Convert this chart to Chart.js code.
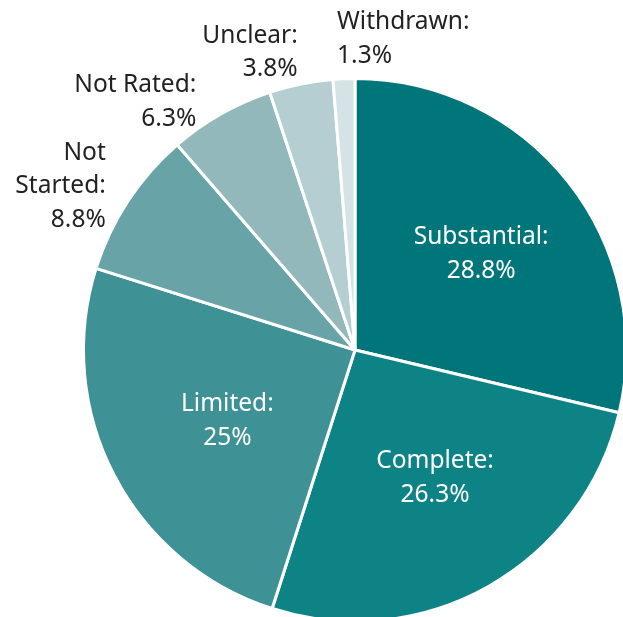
<!DOCTYPE html>
<html>
<head>
<meta charset="utf-8">
<script src="https://cdn.jsdelivr.net/npm/chart.js@4/dist/chart.umd.min.js"></script>
<style>
  html, body { margin: 0; padding: 0; background: #fff; overflow: hidden; }
  #wrap { position: absolute; left: 0; top: 0; width: 710px; height: 700px; }
</style>
</head>
<body>
<div id="wrap"><canvas id="pie" width="710" height="700"></canvas></div>
<script>
// categories and values (percent of total), clockwise from 12 o'clock
const categories = ["Substantial", "Complete", "Limited", "Not Started", "Not Rated", "Unclear", "Withdrawn"];
const shares = [28.8, 26.3, 25, 8.8, 6.3, 3.8, 1.3];
const sliceColors = ["#00767a", "#0d8385", "#3e9194", "#68a3a7", "#92b8bb", "#b4ced2", "#d5e3e6"];

// where each label sits: radius as a fraction of the pie radius,
// angle nudge in degrees, text alignment, colour
const labelPlace = [
    { r: 0.598, da: -0.7, align: "center", color: "#ffffff" },
    { r: 0.538, da: -3.8, align: "center", color: "#ffffff" },
    { r: 0.528, da: 0.3, align: "center", color: "#ffffff" },
    { r: 1.111, da: 1.0, align: "right", color: "#222222", wrap: true },
    { r: 1.103, da: -2.4, align: "right", color: "#222222" },
    { r: 1.138, da: 0.8, align: "right", color: "#222222" },
    { r: 1.170, da: -0.9, align: "left", color: "#222222" }
];

const sliceLabels = {
    id: "sliceLabels",
    afterDatasetsDraw(chart) {
        const ctx = chart.ctx;
        const meta = chart.getDatasetMeta(0);
        ctx.save();
        ctx.font = "24.5px 'Noto Sans'";
        ctx.textBaseline = "middle";
        meta.data.forEach((arc, i) => {
            const p = labelPlace[i];
            const mid = (arc.startAngle + arc.endAngle) / 2 + p.da * Math.PI / 180;
            const x = arc.x + Math.cos(mid) * arc.outerRadius * p.r;
            const y = arc.y + Math.sin(mid) * arc.outerRadius * p.r + 6;
            let lines = p.wrap ? categories[i].split(" ") : [categories[i]];
            lines[lines.length - 1] += ":";
            lines.push(shares[i] + "%");
            const lh = 33.5;
            const top = y - (lines.length - 1) * lh / 2;
            ctx.fillStyle = p.color;
            ctx.textAlign = p.align;
            lines.forEach((t, k) => ctx.fillText(t, x, top + k * lh));
        });
        ctx.restore();
    }
};

new Chart(document.getElementById("pie"), {
    type: "pie",
    data: {
        labels: categories,
        datasets: [{
            data: shares,
            backgroundColor: sliceColors,
            borderColor: "#ffffff",
            borderWidth: 3
        }]
    },
    options: {
        responsive: false,
        animation: false,
        devicePixelRatio: 1,
        layout: { padding: { left: 82, right: 82, top: 77, bottom: 77 } },
        plugins: {
            legend: { display: false },
            tooltip: { enabled: false }
        }
    },
    plugins: [sliceLabels]
});
</script>
</body>
</html>
